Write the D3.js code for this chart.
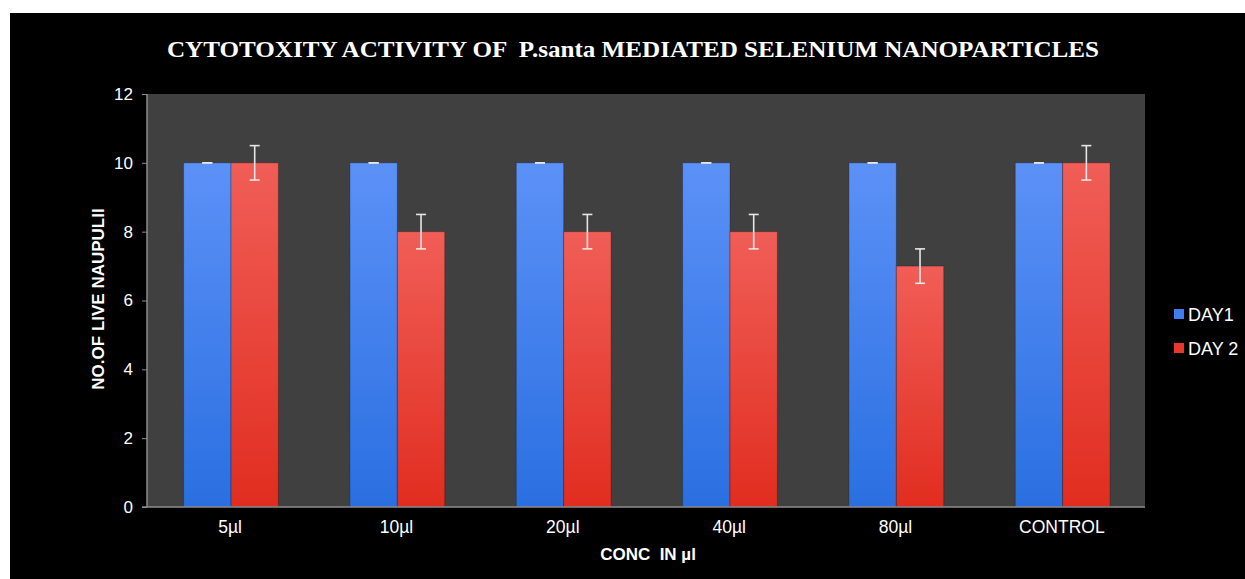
<!DOCTYPE html>
<html><head><meta charset="utf-8">
<script src="https://cdn.jsdelivr.net/npm/d3@7"></script>
<style>html,body{margin:0;padding:0;background:#fff;}svg{display:block;}</style>
</head><body>
<svg id="c" width="1245" height="579"></svg>
<script>
const categories = ["5µl","10µl","20µl","40µl","80µl","CONTROL"];
const seriesNames = ["DAY1","DAY 2"];
const day1 = [10,10,10,10,10,10];
const day2 = [10,8,8,8,7,10];
const day1Err = [0,0,0,0,0,0];
const day2Err = [0.5,0.5,0.5,0.5,0.5,0.5];
const yTicks = [0,2,4,6,8,10,12];

const svg = d3.select("#c");
svg.append("rect").attr("x",10).attr("y",13).attr("width",1235).attr("height",566).attr("fill","#000");

const defs = svg.append("defs");
const gB = defs.append("linearGradient").attr("id","gB").attr("x1",0).attr("y1",0).attr("x2",0).attr("y2",1);
gB.append("stop").attr("offset","0%").attr("stop-color","#5c91f7");
gB.append("stop").attr("offset","100%").attr("stop-color","#2a6fe1");
const gR = defs.append("linearGradient").attr("id","gR").attr("x1",0).attr("y1",0).attr("x2",0).attr("y2",1);
gR.append("stop").attr("offset","0%").attr("stop-color","#f05e57");
gR.append("stop").attr("offset","100%").attr("stop-color","#e12d20");

const L=147,R=1145,T=94,B=507;
svg.append("rect").attr("x",L).attr("y",T).attr("width",R-L).attr("height",B-T).attr("fill","#404040");

const y = d3.scaleLinear().domain([0,12]).range([B,T]);
const x0 = d3.scaleBand().domain(categories).range([L,R]).padding(0);
const step = x0.step();
const x1 = d3.scaleBand().domain(seriesNames).range([step*0.22, step*0.79]).padding(0);

const data = categories.map((c,i)=>({c, vals:[{s:seriesNames[0],v:day1[i],e:day1Err[i],f:"url(#gB)"},{s:seriesNames[1],v:day2[i],e:day2Err[i],f:"url(#gR)"}]}));

const grp = svg.append("g").selectAll("g").data(data).join("g").attr("transform",d=>`translate(${x0(d.c)},0)`);
grp.selectAll("rect").data(d=>d.vals).join("rect")
  .attr("x",d=>x1(d.s)).attr("width",x1.bandwidth())
  .attr("y",d=>y(d.v)).attr("height",d=>B-y(d.v))
  .attr("fill",d=>d.f).attr("stroke","rgba(0,0,0,0.25)").attr("stroke-width",1);

// error bars
const eb = grp.selectAll("g.eb").data(d=>d.vals).join("g").attr("class","eb")
  .attr("stroke","#e6e6e6").attr("stroke-width",1.6);
eb.append("line").attr("x1",d=>x1(d.s)+x1.bandwidth()/2).attr("x2",d=>x1(d.s)+x1.bandwidth()/2)
  .attr("y1",d=>y(d.v+d.e)).attr("y2",d=>y(d.v-d.e));
eb.append("line").attr("x1",d=>x1(d.s)+x1.bandwidth()/2-5).attr("x2",d=>x1(d.s)+x1.bandwidth()/2+5)
  .attr("y1",d=>y(d.v+d.e)).attr("y2",d=>y(d.v+d.e));
eb.append("line").attr("x1",d=>x1(d.s)+x1.bandwidth()/2-5).attr("x2",d=>x1(d.s)+x1.bandwidth()/2+5)
  .attr("y1",d=>y(d.v-d.e)).attr("y2",d=>y(d.v-d.e));

const FONT = "Liberation Sans, Arial, sans-serif";
// axes
const yAxis = svg.append("g").attr("transform",`translate(${L},0)`)
  .call(d3.axisLeft(y).tickValues(yTicks).tickSize(5).tickPadding(9).tickFormat(d3.format("d")));
yAxis.select(".domain").attr("stroke","#8c8c8c").attr("stroke-width",1.5).attr("d",`M0,${T}V${B}`);
yAxis.selectAll(".tick line").attr("stroke","#8c8c8c");
yAxis.selectAll("text").attr("fill","#fff").attr("font-family",FONT).attr("font-size",17);

const xAxis = svg.append("g").attr("transform",`translate(0,${B})`)
  .call(d3.axisBottom(x0).tickSize(0).tickPadding(14));
xAxis.select(".domain").attr("stroke","#8c8c8c").attr("stroke-width",1.5).attr("d",`M${L-5},0H${R}`);
xAxis.selectAll("text").attr("fill","#fff").attr("font-family",FONT).attr("font-size",17.5);

// title
svg.append("text").attr("x",633).attr("y",57).attr("text-anchor","middle")
  .attr("font-family","Liberation Serif, Times New Roman, serif").attr("font-weight","bold").attr("font-size",23.5)
  .attr("fill","#fff").attr("textLength",932).attr("lengthAdjust","spacingAndGlyphs")
  .attr("xml:space","preserve")
  .text("CYTOTOXITY ACTIVITY OF  P.santa MEDIATED SELENIUM NANOPARTICLES");

svg.append("text").attr("transform","translate(104,299) rotate(-90)").attr("text-anchor","middle")
  .attr("font-family",FONT).attr("font-weight","bold").attr("font-size",17)
  .attr("fill","#fff").text("NO.OF LIVE NAUPULII");

svg.append("text").attr("x",648).attr("y",560).attr("text-anchor","middle")
  .attr("font-family",FONT).attr("font-weight","bold").attr("font-size",17)
  .attr("fill","#fff").attr("xml:space","preserve").text("CONC  IN µl");

// legend
const colors = ["#3f7ef0","#e8382e"];
const lg = svg.append("g").selectAll("g").data(seriesNames).join("g")
  .attr("transform",(d,i)=>`translate(1174,${314+i*34})`);
lg.append("rect").attr("x",0).attr("y",-5).attr("width",10).attr("height",10).attr("fill",(d,i)=>colors[i]);
lg.append("text").attr("x",14).attr("y",6.5).attr("fill","#fff")
  .attr("font-family",FONT).attr("font-size",18).text(d=>d);
</script>
</body></html>
